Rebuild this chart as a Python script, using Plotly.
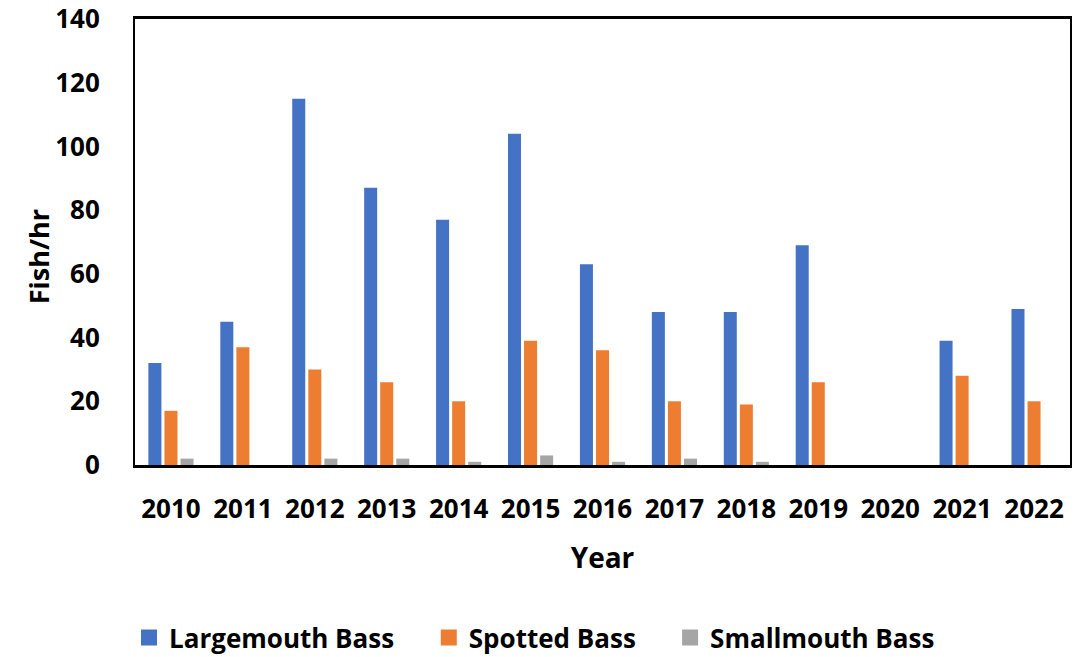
import plotly.graph_objects as go

years = ["2010", "2011", "2012", "2013", "2014", "2015", "2016", "2017", "2018", "2019", "2020", "2021", "2022"]
largemouth = [32, 45, 115, 87, 77, 104, 63, 48, 48, 69, None, 39, 49]
spotted = [17, 37, 30, 26, 20, 39, 36, 20, 19, 26, None, 28, 20]
smallmouth = [2, 0, 2, 2, 1, 3, 1, 2, 1, 0, None, 0, 0]

series = [
    ("Largemouth Bass", largemouth, "#4472C4", "legend", -0.0064),
    ("Spotted Bass", spotted, "#ED7D31", "legend2", 0.3142),
    ("Smallmouth Bass", smallmouth, "#A5A5A5", "legend3", 0.5723),
]

ff = "'Open Sans', 'Noto Sans', sans-serif"

fig = go.Figure()
legends = {}
for name, vals, color, lg, lx in series:
    fig.add_trace(go.Bar(
        x=years, y=vals, name=name, showlegend=False,
        marker=dict(color=color, line=dict(width=0)),
    ))
    # legend swatch (square marker, no data drawn)
    fig.add_trace(go.Scatter(
        x=[None], y=[None], name=name, legend=lg, mode="markers",
        marker=dict(symbol="square", size=16, color=color),
    ))
    legends[lg] = dict(
        orientation="h", x=lx, xanchor="left", y=-0.387, yanchor="middle",
        font=dict(family=ff, size=26, color="black", weight="bold"),
        itemwidth=30, bgcolor="rgba(0,0,0,0)", itemsizing="trace",
    )

fig.update_layout(
    width=1074, height=657,
    paper_bgcolor="white", plot_bgcolor="white",
    margin=dict(l=135, r=4, t=19, b=192, autoexpand=False),
    barmode="group", bargap=0.33, bargroupgap=0.19,
    font=dict(family=ff, size=20, color="black"),
    showlegend=True,
    xaxis=dict(
        type="category", automargin=False,
        showline=True, linecolor="black", linewidth=2.5, mirror=True,
        showgrid=False, ticks="", ticklabelstandoff=19, ticklabeloverflow="allow",
        tickfont=dict(family=ff, size=26, weight="bold", color="black"),
        title=dict(text="Year", standoff=24,
                   font=dict(family=ff, size=28, weight="bold", color="black")),
    ),
    yaxis=dict(
        range=[0, 140], dtick=20, automargin=False,
        showline=True, linecolor="black", linewidth=2, mirror=True,
        showgrid=False, zeroline=False, ticks="", ticklabelstandoff=28,
        ticklabeloverflow="allow",
        tickfont=dict(family=ff, size=26, weight="bold", color="black"),
    ),
    annotations=[dict(
        text="Fish/hr", textangle=-90, xref="paper", yref="paper",
        x=-0.1036, y=0.466, xanchor="center", yanchor="middle", showarrow=False,
        font=dict(family=ff, size=27, weight="bold", color="black"),
    )],
    **legends,
)

fig.write_html("out.html", config={"displayModeBar": False},
               post_script="document.body.style.margin='0';")
